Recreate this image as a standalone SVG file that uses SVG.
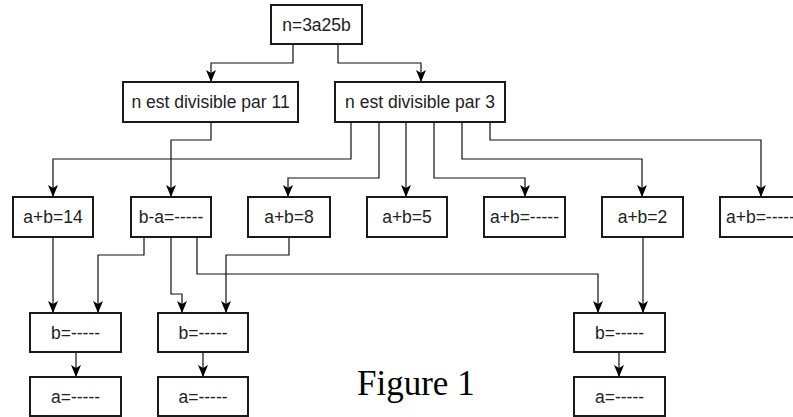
<svg xmlns="http://www.w3.org/2000/svg" width="793" height="417" viewBox="0 0 793 417">
<style>
.box{fill:#fff;stroke:#1a1a1a;stroke-width:2}
.t{font-family:"Liberation Sans",Arial,sans-serif;font-size:17.5px;fill:#222;text-anchor:middle}
.c{fill:none;stroke:#111;stroke-width:1.2;marker-end:url(#arr)}
.fig{font-family:"Liberation Serif","Times New Roman",serif;font-size:35px;fill:#000}
</style>
<defs>
<marker id="arr" markerUnits="userSpaceOnUse" markerWidth="12" markerHeight="10" refX="12" refY="5" orient="auto" viewBox="0 0 12 10">
<path d="M0,0 L12,5 L0,10 L3,5 z" fill="#000"/>
</marker>
</defs>
<rect width="793" height="417" fill="#fff"/>
<g id="connectors">
<path class="c" d="M293,44 V63 H211 V82"/>
<path class="c" d="M338,44 V63 H421 V82"/>
<path class="c" d="M211,122 V140 H171 V197"/>
<path class="c" d="M351,122 V159 H53 V197"/>
<path class="c" d="M379,122 V178 H288 V197"/>
<path class="c" d="M406,122 V197"/>
<path class="c" d="M434,122 V178 H525 V197"/>
<path class="c" d="M462,122 V159 H642 V197"/>
<path class="c" d="M490,122 V140 H761 V197"/>
<path class="c" d="M53,237 V313"/>
<path class="c" d="M144,237 V255 H98 V313"/>
<path class="c" d="M171,237 V294 H182 V313"/>
<path class="c" d="M197,237 V274 H598 V313"/>
<path class="c" d="M289,237 V255 H226 V313"/>
<path class="c" d="M643,237 V313"/>
<path class="c" d="M76,352 V377"/>
<path class="c" d="M203,352 V377"/>
<path class="c" d="M619,352 V377"/>
</g>
<g id="n_top"><rect class="box" x="271" y="5" width="91" height="39"/><text class="t" x="316.5" y="30.5">n=3a25b</text></g>
<g id="n_div11"><rect class="box" x="123" y="82" width="175" height="40"/><text class="t" x="210.5" y="108">n est divisible par 11</text></g>
<g id="n_div3"><rect class="box" x="335" y="82" width="170" height="40"/><text class="t" x="420" y="108">n est divisible par 3</text></g>
<g id="n_ab14"><rect class="box" x="13" y="197" width="80" height="40"/><text class="t" x="53" y="223">a+b=14</text></g>
<g id="n_ba"><rect class="box" x="131" y="197" width="80" height="40"/><text class="t" x="171" y="223">b-a=-----</text></g>
<g id="n_ab8"><rect class="box" x="248" y="197" width="82" height="40"/><text class="t" x="289" y="223">a+b=8</text></g>
<g id="n_ab5"><rect class="box" x="367" y="197" width="80" height="40"/><text class="t" x="407" y="223">a+b=5</text></g>
<g id="n_abx1"><rect class="box" x="484" y="197" width="81" height="40"/><text class="t" x="524.5" y="223">a+b=-----</text></g>
<g id="n_ab2"><rect class="box" x="602" y="197" width="81" height="40"/><text class="t" x="642.5" y="223">a+b=2</text></g>
<g id="n_abx2"><rect class="box" x="720" y="197" width="81" height="40"/><text class="t" x="760.5" y="223">a+b=-----</text></g>
<g id="n_b1"><rect class="box" x="30" y="313" width="91" height="39"/><text class="t" x="75.5" y="338.5">b=-----</text></g>
<g id="n_b2"><rect class="box" x="158" y="313" width="90" height="39"/><text class="t" x="203" y="338.5">b=-----</text></g>
<g id="n_b3"><rect class="box" x="574" y="313" width="91" height="39"/><text class="t" x="619.5" y="338.5">b=-----</text></g>
<g id="n_a1"><rect class="box" x="30" y="377" width="91" height="39"/><text class="t" x="75.5" y="402.5">a=-----</text></g>
<g id="n_a2"><rect class="box" x="158" y="377" width="90" height="39"/><text class="t" x="203" y="402.5">a=-----</text></g>
<g id="n_a3"><rect class="box" x="574" y="377" width="91" height="39"/><text class="t" x="619.5" y="402.5">a=-----</text></g>
<text class="fig" x="357" y="395">Figure 1</text>
</svg>
